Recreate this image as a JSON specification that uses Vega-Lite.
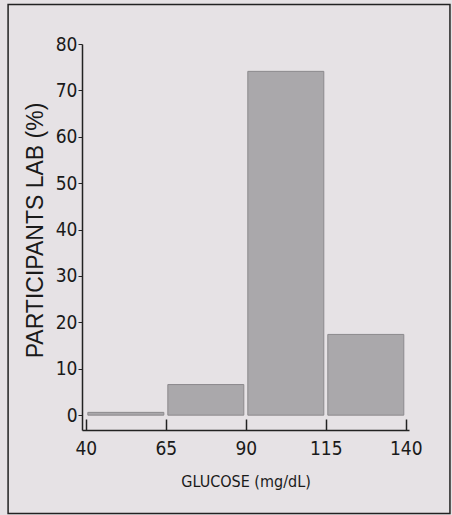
{
  "$schema": "https://vega.github.io/schema/vega-lite/v6.json",
  "width": 327,
  "height": 386,
  "autosize": "none",
  "padding": {"left": 82, "top": 44, "right": 43, "bottom": 85},
  "background": "#e6e2e5",
  "config": {
    "view": {"stroke": null},
    "axis": {
      "labelFont": "Liberation Sans Narrow, Arial Narrow, DejaVu Sans Condensed",
      "titleFont": "Liberation Sans Narrow, Arial Narrow, DejaVu Sans Condensed",
      "labelColor": "#1a1a1a",
      "titleColor": "#1a1a1a",
      "domainColor": "#222222",
      "tickColor": "#222222",
      "grid": false
    }
  },
  "datasets": {
    "bins": [
      {"lo": 40, "hi": 65, "pct": 0.6},
      {"lo": 65, "hi": 90, "pct": 6.6},
      {"lo": 90, "hi": 115, "pct": 74.1},
      {"lo": 115, "hi": 140, "pct": 17.4}
    ],
    "frame": [{"x0": 15.7, "x1": 153.8, "y0": -21.2, "y1": 88.5}]
  },
  "layer": [
    {
      "data": {"name": "bins"},
      "mark": {"type": "rect", "fill": "#aaa8ab", "stroke": "#8c8a8d", "strokeWidth": 1, "xOffset": 2, "x2Offset": -2},
      "encoding": {
        "x": {
          "field": "lo", "type": "quantitative",
          "scale": {"domain": [38.8, 141], "nice": false, "zero": false},
          "axis": {
            "title": "GLUCOSE (mg/dL)",
            "values": [40, 65, 90, 115, 140],
            "tickSize": -11,
            "tickWidth": 1.5,
            "domainWidth": 1.5,
            "labelFontSize": 19,
            "labelPadding": 20,
            "titleFontSize": 16,
            "titleFontWeight": "normal",
            "titlePadding": 15
          }
        },
        "x2": {"field": "hi"},
        "y": {
          "field": "pct", "type": "quantitative",
          "scale": {"domain": [-3.2, 80], "nice": false, "zero": false},
          "axis": {
            "title": "PARTICIPANTS LAB (%)",
            "titleFont": "Liberation Sans, Arial, sans-serif",
            "titleFontSize": 23,
            "titleFontWeight": "normal",
            "titlePadding": 8,
            "titleY": 186,
            "values": [0, 10, 20, 30, 40, 50, 60, 70, 80],
            "tickSize": 4,
            "domainWidth": 1.5,
            "labelFontSize": 19,
            "labelPadding": 1
          }
        },
        "y2": {"datum": 0}
      }
    },
    {
      "data": {"name": "frame"},
      "mark": {"type": "rect", "fill": null, "stroke": "#222222", "strokeWidth": 1.5, "clip": false},
      "encoding": {
        "x": {"field": "x0", "type": "quantitative"},
        "x2": {"field": "x1"},
        "y": {"field": "y0", "type": "quantitative"},
        "y2": {"field": "y1"}
      }
    }
  ]
}
